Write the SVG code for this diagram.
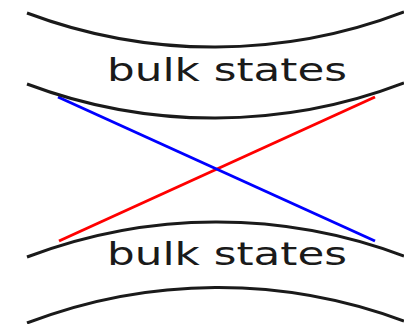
<svg xmlns="http://www.w3.org/2000/svg" width="404" height="324" viewBox="0 0 404 324">
<style>
.band{fill:none;stroke:#1a1a1a;stroke-width:3;stroke-linecap:butt}
.lbl{font-family:"DejaVu Sans",sans-serif;font-size:32px;fill:#1a1a1a}
.edge{stroke-width:3;fill:none}
</style>
<rect width="404" height="324" fill="#fff"/>
<g id="connectors">
<line class="edge" x1="59" y1="241" x2="375" y2="97" stroke="#ff0000"/>
<line class="edge" x1="58" y1="97" x2="375" y2="241" stroke="#0000ff"/>
</g>
<g id="upper-band">
<path class="band" d="M27,13 A531,531 0 0 0 404,12"/>
<path class="band" d="M27,84 A531,531 0 0 0 404,83"/>
<text class="lbl" x="107" y="81" textLength="240" lengthAdjust="spacingAndGlyphs">bulk states</text>
</g>
<g id="lower-band">
<path class="band" d="M27,257 A531,531 0 0 1 404,256"/>
<path class="band" d="M27,323 A531,531 0 0 1 404,321"/>
<text class="lbl" x="107" y="265" textLength="240" lengthAdjust="spacingAndGlyphs">bulk states</text>
</g>
</svg>
